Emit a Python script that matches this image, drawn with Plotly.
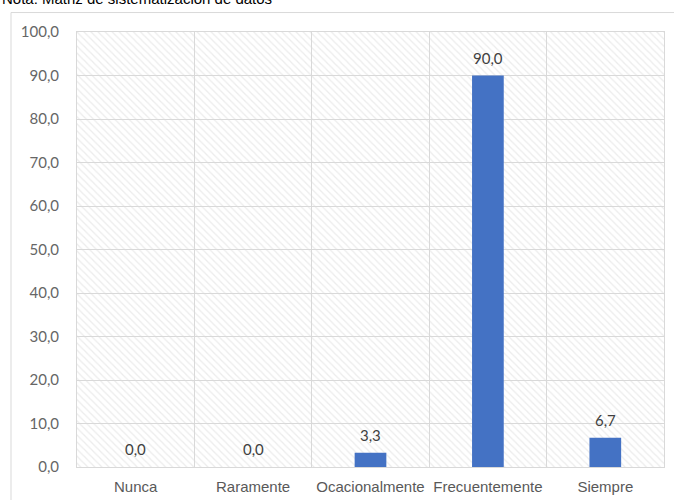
import plotly.graph_objects as go

categories = ["Nunca", "Raramente", "Ocacionalmente", "Frecuentemente", "Siempre"]
values = [0.0, 0.0, 3.3, 90.0, 6.7]
y_ticks = [0, 10, 20, 30, 40, 50, 60, 70, 80, 90, 100]
title_text = "Nota: Matriz de sistematización de datos"

W, H = 674, 500
L, R, T, B = 77, 10, 31.5, 32.5
pw = W - L - R
ph = H - T - B

def px_x(px):
    return (px - L) / pw

def px_y(py):
    return (H - B - py) / ph

xpos = list(range(len(categories)))

fig = go.Figure()

# hatched plot-area background
fig.add_trace(go.Bar(
    x=[2], y=[100], width=[5],
    marker=dict(color="rgba(0,0,0,0)", line=dict(width=0),
                pattern=dict(shape="\\", fgcolor="#d9d9d9", bgcolor="rgba(0,0,0,0)",
                             size=5, solidity=0.25)),
    hoverinfo="skip", showlegend=False,
))

fig.add_trace(go.Bar(
    x=xpos, y=values, width=0.27,
    marker=dict(color="#4472C4", line=dict(width=0)),
    showlegend=False,
))

for xi, v in zip(xpos, values):
    fig.add_annotation(x=xi, y=v, text=f"{v:.1f}".replace(".", ","),
                       showarrow=False, yanchor="bottom", yshift=7,
                       font=dict(family="Lato, Open Sans, sans-serif", size=15, color="#404040"))

fig.add_annotation(x=px_x(0), y=px_y(8), xref="paper", yref="paper",
                   xanchor="left", yanchor="bottom", showarrow=False,
                   text=title_text,
                   font=dict(family="Liberation Sans, Arial, sans-serif", size=15, color="#000000"))

# outer chart frame
fig.add_shape(type="line", xref="paper", yref="paper",
              x0=px_x(11), x1=px_x(680), y0=px_y(12), y1=px_y(12),
              line=dict(color="#d9d9d9", width=1))
fig.add_shape(type="line", xref="paper", yref="paper",
              x0=px_x(11), x1=px_x(11), y0=px_y(12), y1=px_y(510),
              line=dict(color="#d9d9d9", width=1))

fig.update_layout(
    width=W, height=H,
    margin=dict(l=L, r=R, t=T, b=B),
    paper_bgcolor="white", plot_bgcolor="white",
    separators=",.",
    barmode="overlay",
    xaxis=dict(
        range=[-0.5, 4.5], tickvals=xpos, ticktext=categories,
        showgrid=False, zeroline=False, automargin=False,
        showline=True, mirror=True, linecolor="#d9d9d9", linewidth=1,
        ticks="", ticklen=0, ticklabelstandoff=6,
        tickfont=dict(family="Liberation Sans, Arial, sans-serif", size=15, color="#595959"),
        minor=dict(tick0=-0.5, dtick=1, showgrid=True, gridcolor="#d9d9d9", gridwidth=1),
    ),
    yaxis=dict(
        range=[0, 100], tickvals=y_ticks, tickformat=".1f", automargin=False,
        showgrid=True, gridcolor="#d9d9d9", gridwidth=1,
        zeroline=False, showline=True, mirror=True, linecolor="#d9d9d9", linewidth=1,
        ticks="", ticklabelstandoff=14,
        tickfont=dict(family="Lato, Open Sans, sans-serif", size=15, color="#666666"),
    ),
)

fig.write_html("out.html", config={"displayModeBar": False},
               post_script="document.body.style.margin='0';")
